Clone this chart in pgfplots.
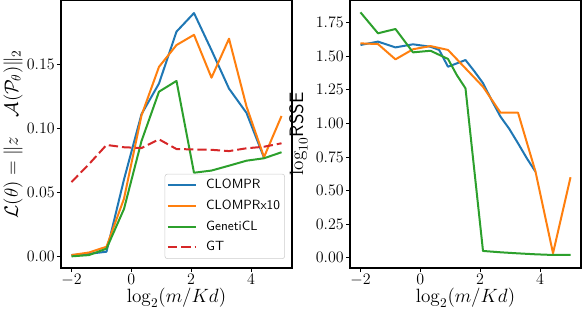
\documentclass[border=0pt]{standalone}
\usepackage{pgfplots}
\pgfplotsset{compat=1.18}
\definecolor{tabblue}{HTML}{1F77B4}
\definecolor{taborange}{HTML}{FF7F0E}
\definecolor{tabgreen}{HTML}{2CA02C}
\definecolor{tabred}{HTML}{D62728}
\begin{document}
\begin{tikzpicture}
\pgfplotsset{
  myax/.style={
    scale only axis, width=173.25pt, height=201pt,
    xmin=-2.35, xmax=5.37, xtick={-2,0,2,4},
    tick align=outside, major tick length=3pt,
    tick style={black, line width=0.6pt},
    axis line style={line width=0.8pt},
    xtick pos=bottom, ytick pos=left,
    ticklabel style={font=\fontsize{12}{14}\selectfont, inner sep=1.5pt},
    label style={font=\fontsize{14.5}{17}\selectfont},
    xlabel={$\log_2(m/Kd)$},
    xlabel style={at={(axis description cs:0.5,0)}, anchor=center, yshift=-22.5pt},
    yticklabel style={/pgf/number format/.cd, fixed, fixed zerofill, precision=2},
    every axis plot/.append style={line width=1.5pt, line join=round},
  }
}
\begin{axis}[myax, at={(0pt,0pt)}, anchor=south west,
  ymin=-0.0091, ymax=0.2002, ytick={0,0.05,0.10,0.15},
  ylabel={$\mathcal{L}(\theta) = \|z\quad\mathcal{A}(\mathcal{P}_\theta)\|_2$},
  ylabel style={at={(axis description cs:-0.2078,0.5)}, anchor=center},
  legend cell align=left,
  legend image code/.code={\draw[#1] (0pt,0pt) -- (21pt,0pt);},
  legend style={at={(axis description cs:1,0)}, anchor=south east,
    xshift=-5.25pt, yshift=6.75pt, draw=black!20, rounded corners=2pt,
    font=\sffamily\fontsize{10}{12}\selectfont, inner xsep=1.5pt, inner ysep=2pt,
    row sep=2.5pt, column sep=5pt, nodes={text height=7pt, text depth=2pt, inner sep=2pt}},
]
\addplot[tabblue] coordinates {(-2,0.001)(-1.415,0.002)(-0.83,0.0036)(-0.245,0.060)(0.34,0.111)(0.925,0.135)(1.51,0.1755)(2.095,0.190)(2.68,0.161)(3.265,0.131)(3.85,0.112)(4.435,0.077)};
\addlegendentry{CLOMPR}
\addplot[taborange] coordinates {(-2,0.001)(-1.415,0.003)(-0.83,0.0075)(-0.245,0.045)(0.34,0.110)(0.925,0.148)(1.51,0.165)(2.095,0.173)(2.68,0.1395)(3.265,0.170)(3.85,0.117)(4.435,0.0775)(5.02,0.1096)};
\addlegendentry{CLOMPRx10}
\addplot[tabgreen] coordinates {(-2,0.000)(-1.415,0.001)(-0.83,0.006)(-0.245,0.037)(0.34,0.090)(0.925,0.1286)(1.51,0.137)(2.095,0.0653)(2.68,0.067)(3.265,0.0708)(3.85,0.0747)(4.435,0.0766)(5.02,0.0813)};
\addlegendentry{GenetiCL}
\addplot[tabred, dash pattern=on 7pt off 3pt] coordinates {(-2,0.058)(-1.415,0.072)(-0.83,0.087)(-0.245,0.0852)(0.34,0.0846)(0.925,0.0914)(1.51,0.0838)(2.095,0.0835)(2.68,0.0832)(3.265,0.0822)(3.85,0.0844)(4.435,0.0856)(5.02,0.0883)};
\addlegendentry{GT}
\end{axis}
\begin{axis}[myax, at={(216.75pt,0pt)}, anchor=south west,
  ymin=-0.077, ymax=1.919, ytick={0,0.25,0.5,0.75,1,1.25,1.5,1.75},
  ylabel={$\log_{10}$\textsf{RSSE}},
  ylabel style={at={(axis description cs:-0.2228,0.5)}, anchor=center},
]
\addplot[tabblue] coordinates {(-2,1.584)(-1.415,1.609)(-0.83,1.566)(-0.245,1.589)(0.34,1.571)(0.63,1.547)(0.925,1.422)(1.22,1.447)(1.51,1.472)(1.8,1.39)(2.095,1.30)(2.39,1.17)(2.68,1.05)(2.97,0.96)(3.265,0.852)(3.56,0.74)(3.85,0.64)};
\addplot[taborange] coordinates {(-2,1.596)(-1.415,1.591)(-0.83,1.477)(-0.245,1.552)(0.34,1.576)(0.925,1.547)(1.51,1.41)(2.095,1.273)(2.68,1.08)(3.265,1.08)(3.85,0.640)(4.435,0.033)(5.02,0.599)};
\addplot[tabgreen] coordinates {(-2,1.827)(-1.415,1.671)(-0.83,1.703)(-0.245,1.529)(0.34,1.541)(0.925,1.48)(1.22,1.36)(1.51,1.261)(2.095,0.050)(2.68,0.040)(3.265,0.032)(3.85,0.025)(4.435,0.020)(5.02,0.020)};
\end{axis}
\pgfresetboundingbox
\path[use as bounding box] (-45.75pt,-31.5pt) rectangle (390.75pt,201pt);
\end{tikzpicture}
\end{document}
